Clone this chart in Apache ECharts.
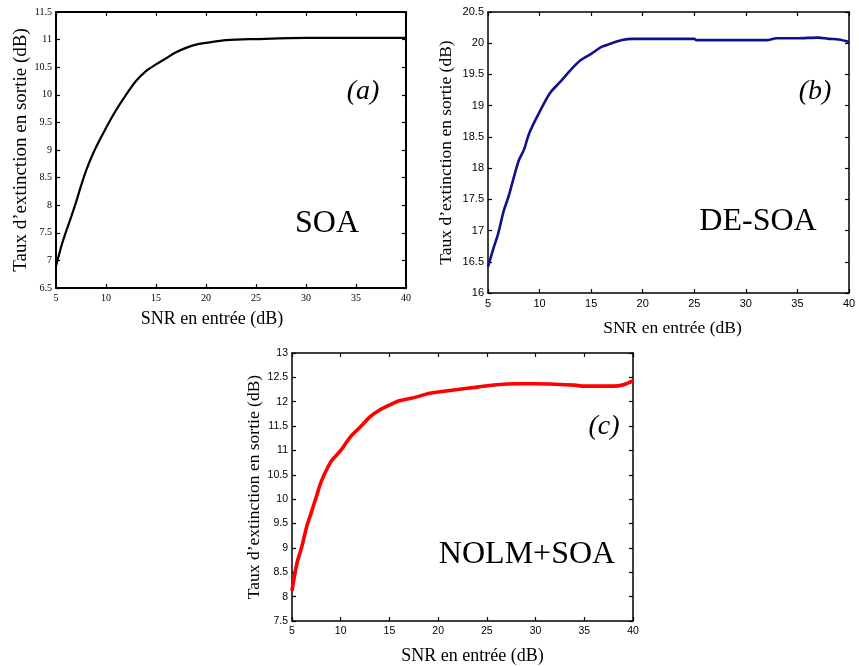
<!DOCTYPE html>
<html><head><meta charset="utf-8">
<script src="https://cdn.jsdelivr.net/npm/echarts@6/dist/echarts.min.js"></script>
<style>html,body{margin:0;padding:0;background:#fff}#c{width:859px;height:666px}</style>
</head><body><div id="c"></div>
<script>
// ---- data ----
const xTicks = [5, 10, 15, 20, 25, 30, 35, 40];
const yTicksA = [6.5, 7, 7.5, 8, 8.5, 9, 9.5, 10, 10.5, 11, 11.5];
const yTicksB = [16, 16.5, 17, 17.5, 18, 18.5, 19, 19.5, 20, 20.5];
const yTicksC = [7.5, 8, 8.5, 9, 9.5, 10, 10.5, 11, 11.5, 12, 12.5, 13];

const snrA = [5, 5.3, 5.6, 6, 6.5, 7, 7.5, 8, 8.5, 9, 10, 11, 12, 13, 14, 15, 16, 17, 18, 19, 20, 22, 25, 30, 35, 40];
const erA  = [6.9, 7.1, 7.3, 7.52, 7.78, 8.05, 8.35, 8.62, 8.85, 9.05, 9.4, 9.72, 10.0, 10.25, 10.43, 10.55, 10.66, 10.77, 10.85, 10.91, 10.94, 10.99, 11.01, 11.03, 11.03, 11.03];

const snrB = [5, 5.5, 6, 6.5, 7, 7.5, 8, 8.5, 9, 10, 11, 12, 13, 14, 15, 16, 17, 18, 19, 20, 25, 25.2, 32, 33, 35, 37, 38, 39, 40];
const erB  = [16.42, 16.7, 16.96, 17.3, 17.55, 17.85, 18.13, 18.3, 18.56, 18.9, 19.2, 19.38, 19.57, 19.73, 19.83, 19.94, 20.0, 20.05, 20.07, 20.07, 20.07, 20.05, 20.05, 20.08, 20.08, 20.09, 20.07, 20.06, 20.02];

const snrC = [5, 5.5, 6, 6.5, 7, 7.5, 8, 9, 10, 11, 12, 13, 14, 15, 16, 17, 18, 19, 20, 22, 24, 26, 28, 30, 32, 34, 35, 38, 39, 40];
const erC  = [8.12, 8.68, 9.02, 9.43, 9.74, 10.05, 10.36, 10.77, 11.0, 11.28, 11.48, 11.69, 11.83, 11.93, 12.02, 12.06, 12.11, 12.17, 12.2, 12.25, 12.3, 12.35, 12.37, 12.37, 12.36, 12.34, 12.32, 12.32, 12.35, 12.43];

const xTitle = "SNR en entrée (dB)";
const yTitle = "Taux d’extinction en sortie (dB)";
const panelTags = ["(a)", "(b)", "(c)"];
const panelNames = ["SOA", "DE-SOA", "NOLM+SOA"];

// ---- layout ----
const panels = [
  {grid:{left:56, top:12, width:350, height:276}, yT:yTicksA, x:snrA, y:erA, color:"#000000", lw:2.2, axw:2, lblFont:"Liberation Serif", lblFs:10,
   xGap:22, yGap:23, xFs:18, yFs:19, xPad:[0,38,0,0], tag:[363, 92], name:[327, 224]},
  {grid:{left:488, top:12, width:361, height:281}, yT:yTicksB, x:snrB, y:erB, color:"#10108c", lw:2.6, axw:1.5, lblFont:"Liberation Sans", lblFs:11,
   xGap:26, yGap:33, xFs:17.5, yFs:17.5, xPad:[0,0,0,8], tag:[815, 92], name:[758, 222]},
  {grid:{left:292, top:353, width:341, height:268}, yT:yTicksC, x:snrC, y:erC, color:"#ff0000", lw:3.6, axw:1.5, lblFont:"Liberation Sans", lblFs:10.5,
   xGap:26, yGap:27, xFs:18, yFs:17.5, xPad:[0,0,0,20], tag:[604, 427], name:[527, 555]}
];

const grids = [], xAxes = [], yAxes = [], series = [], graphics = [];
panels.forEach((p, i) => {
  grids.push(Object.assign({containLabel:false}, p.grid));
  const xmin = xTicks[0], xmax = xTicks[xTicks.length-1], xint = xTicks[1]-xTicks[0];
  const ymin = p.yT[0], ymax = p.yT[p.yT.length-1], yint = p.yT[1]-p.yT[0];
  const line = {show:true, onZero:false, lineStyle:{color:"#000", width:p.axw}};
  const tick = {show:true, inside:true, length:4, lineStyle:{color:"#000", width:1.2}};
  const lbl = {color:"#000", fontFamily:p.lblFont, fontSize:p.lblFs, margin:5};
  xAxes.push({gridIndex:i, type:"value", min:xmin, max:xmax, interval:xint, position:"bottom",
    axisLine:line, axisTick:tick, axisLabel:lbl, splitLine:{show:false},
    name:xTitle, nameLocation:"middle", nameGap:p.xGap,
    nameTextStyle:{color:"#000", fontFamily:"Liberation Serif", fontSize:p.xFs, padding:p.xPad}});
  xAxes.push({gridIndex:i, type:"value", min:xmin, max:xmax, interval:xint, position:"top",
    axisLine:line, axisTick:tick, axisLabel:{show:false}, splitLine:{show:false}});
  yAxes.push({gridIndex:i, type:"value", min:ymin, max:ymax, interval:yint, position:"left",
    axisLine:line, axisTick:tick, axisLabel:Object.assign({}, lbl, {margin:4}), splitLine:{show:false},
    name:yTitle, nameLocation:"middle", nameGap:p.yGap, nameRotate:90,
    nameTextStyle:{color:"#000", fontFamily:"Liberation Serif", fontSize:p.yFs}});
  yAxes.push({gridIndex:i, type:"value", min:ymin, max:ymax, interval:yint, position:"right",
    axisLine:line, axisTick:tick, axisLabel:{show:false}, splitLine:{show:false}});
  series.push({type:"line", xAxisIndex:2*i, yAxisIndex:2*i, showSymbol:false, smooth:0.3,
    data:p.x.map((v, k) => [v, p.y[k]]), lineStyle:{color:p.color, width:p.lw}, animation:false});
  graphics.push({type:"text", x:p.tag[0], y:p.tag[1], style:{text:panelTags[i], fill:"#000",
    font:"italic 28px 'Liberation Serif'", textAlign:"center", textVerticalAlign:"middle"}});
  graphics.push({type:"text", x:p.name[0], y:p.name[1], style:{text:panelNames[i], fill:"#000",
    font:"32px 'Liberation Serif'", textAlign:"center", textVerticalAlign:"middle"}});
});

const chart = echarts.init(document.getElementById("c"), null, {renderer:"canvas"});
chart.setOption({animation:false, backgroundColor:"#fff", grid:grids, xAxis:xAxes, yAxis:yAxes, series:series, graphic:graphics});
</script></body></html>
